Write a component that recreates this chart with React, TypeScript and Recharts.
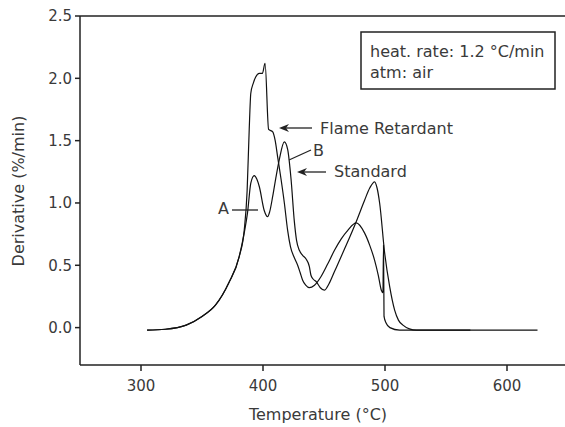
import React from "react"
import { Line, LineChart, ReferenceLine, XAxis, YAxis } from "recharts"

// temperature (°C) and derivative weight loss (%/min)
const frTemp = [
  305, 320, 337, 350, 361, 372, 380.5, 384.6, 387, 388.7, 390, 392, 394, 397, 399.5, 401.7,
  404.6, 408, 410, 412, 414.8, 417.5, 420.2, 422.5, 425.7, 428.4, 430.5, 432.5, 435, 438,
  442.2, 447.6, 453, 458.6, 464, 469.5, 476.4, 483.2, 487.5, 491.5, 494.5, 497, 498.3, 498.8,
  499.2, 501, 504, 512, 625,
]
const frDeriv = [
  -0.02, -0.013, 0.02, 0.09, 0.18, 0.36, 0.57, 0.78, 1.1, 1.59, 1.88, 1.96, 2.01, 2.04, 2.04, 2.12,
  1.59, 1.57, 1.5, 1.37, 1.19, 1.0, 0.78, 0.65, 0.56, 0.5, 0.44, 0.38, 0.34, 0.32,
  0.34, 0.41, 0.51, 0.62, 0.71, 0.78, 0.84, 0.76, 0.66, 0.54, 0.42, 0.3, 0.28, 0.66,
  0.09, 0.035, 0.0, -0.02, -0.02,
]

const stdTemp = [
  305, 320, 337, 350, 361, 372, 380.5, 384.6, 387.3, 390, 392.8, 395, 397, 401, 403.8, 405.5,
  407.9, 410.5, 413.4, 417.5, 420.2, 423, 425.7, 427.5, 429.8, 432.5, 435.3, 438, 439.3, 441,
  443.5, 447, 450.3, 454, 458.6, 466.8, 476.4, 483.2, 487.5, 491.5, 493.5, 495.6, 499.7,
  503.8, 507.9, 511, 514.7, 520, 525.7, 570,
]
const stdDeriv = [
  -0.02, -0.013, 0.02, 0.09, 0.18, 0.36, 0.57, 0.76, 0.92, 1.16, 1.22, 1.19, 1.13, 0.94, 0.89, 0.93,
  1.05, 1.2, 1.35, 1.49, 1.43, 1.19, 0.85, 0.7, 0.62, 0.58, 0.55, 0.49, 0.42, 0.39,
  0.37, 0.32, 0.3, 0.35, 0.45, 0.63, 0.85, 1.02, 1.12, 1.17, 1.12, 1.0, 0.6,
  0.33, 0.14, 0.06, 0.02, -0.01, -0.02, -0.02,
]

const xTicks = [300, 400, 500, 600]
const yTicks = [0, 0.5, 1.0, 1.5, 2.0, 2.5]

const frData = frTemp.map((t, i) => ({ t, v: frDeriv[i] }))
const stdData = stdTemp.map((t, i) => ({ t, v: stdDeriv[i] }))

const font = "'DejaVu Sans', sans-serif"
const ink = "#222"
const textColor = "#3a3a3a"

function Arrow({ tipX, y, tailX }: { tipX: number; y: number; tailX: number }) {
  return (
    <g>
      <line x1={tipX + 6} y1={y} x2={tailX} y2={y} stroke={ink} strokeWidth={1.3} />
      <path d={`M${tipX},${y} L${tipX + 10},${y - 4} L${tipX + 7},${y} L${tipX + 10},${y + 4} Z`} fill={ink} />
    </g>
  )
}

export default function App() {
  return (
    <div
      style={{
        position: "absolute",
        left: 0,
        top: 0,
        width: 565,
        height: 427,
        overflow: "hidden",
        background: "#fff",
      }}
    >
      <LineChart width={572} height={427} margin={{ top: 16, right: 4, bottom: 22, left: 20 }}>
        <XAxis
          type="number"
          dataKey="t"
          domain={[250, 650]}
          ticks={xTicks}
          allowDataOverflow
          height={40}
          stroke={ink}
          strokeWidth={1.5}
          tickSize={6}
          tickMargin={9}
          tick={{ fill: textColor, fontSize: 15, fontFamily: font }}
        />
        <YAxis
          type="number"
          domain={[-0.3, 2.5]}
          ticks={yTicks}
          allowDataOverflow
          width={60}
          stroke={ink}
          strokeWidth={1.5}
          tickSize={5}
          tickMargin={3}
          tickFormatter={(v: number) => v.toFixed(1)}
          tick={{ fill: textColor, fontSize: 15, fontFamily: font }}
        />
        <ReferenceLine y={2.5} stroke={ink} strokeWidth={1.5} />
        <Line
          data={stdData}
          dataKey="v"
          type="monotone"
          stroke="#111"
          strokeWidth={1.2}
          dot={false}
          isAnimationActive={false}
        />
        <Line
          data={frData}
          dataKey="v"
          type="monotone"
          stroke="#111"
          strokeWidth={1.2}
          dot={false}
          isAnimationActive={false}
        />
      </LineChart>
      <svg
        width={565}
        height={427}
        style={{ position: "absolute", left: 0, top: 0, pointerEvents: "none" }}
        fontFamily={font}
        fontSize={16}
      >
        <rect x={361} y={32} width={194} height={57} fill="none" stroke={ink} strokeWidth={1.5} />
        <text x={370} y={57} fill={textColor}>heat. rate: 1.2 °C/min</text>
        <text x={370} y={78} fill={textColor}>atm: air</text>

        <Arrow tipX={279} y={128} tailX={312} />
        <text x={320} y={134} fill={textColor}>Flame Retardant</text>

        <line x1={289} y1={160} x2={311} y2={150} stroke={ink} strokeWidth={1.3} />
        <text x={313} y={156} fill={textColor}>B</text>

        <Arrow tipX={297} y={172} tailX={326} />
        <text x={334} y={177} fill={textColor}>Standard</text>

        <text x={218} y={214} fill={textColor}>A</text>
        <line x1={232} y1={210} x2={258} y2={210} stroke={ink} strokeWidth={1.3} />

        <text x={318} y={420} textAnchor="middle" fill={textColor}>Temperature (°C)</text>
        <text x={24} y={191} textAnchor="middle" fill={textColor} transform="rotate(-90 24 191)">
          Derivative (%/min)
        </text>
      </svg>
    </div>
  )
}
